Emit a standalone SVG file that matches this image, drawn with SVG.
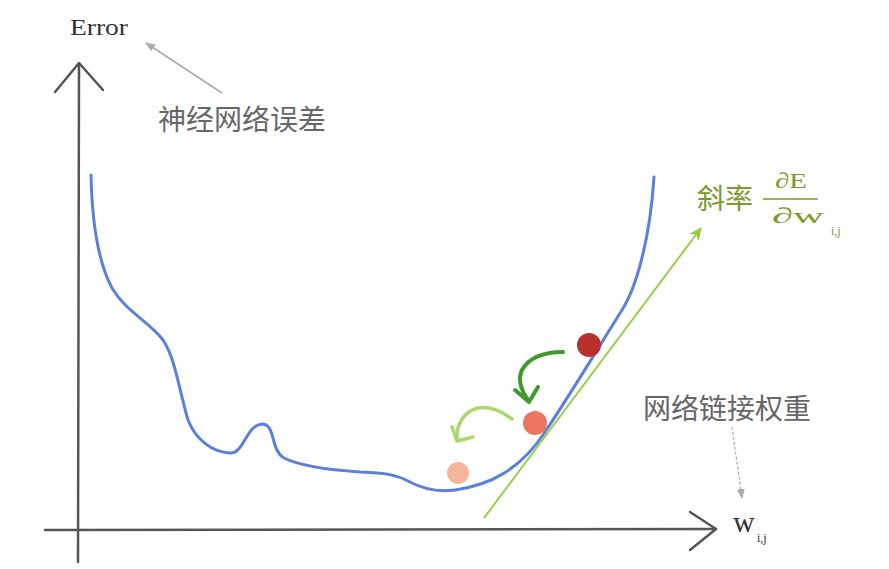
<svg xmlns="http://www.w3.org/2000/svg" width="889" height="569" viewBox="0 0 889 569">
<style>
.axis{fill:none;stroke:#555;stroke-width:2.5;stroke-linecap:round;stroke-linejoin:round}
.serif{font-family:"Liberation Serif","Times New Roman",serif;fill:#333}
.cn{font-family:"Noto Sans CJK SC","Noto Sans",sans-serif;fill:#666;font-size:28px}
</style>
<defs>
<marker id="grayHead" markerWidth="10" markerHeight="10" refX="9" refY="5" orient="auto" markerUnits="userSpaceOnUse">
<path d="M0,1 L10,5 L0,9 Z" fill="#aaa"/>
</marker>
<marker id="greenHead" markerWidth="14" markerHeight="14" refX="12" refY="7" orient="auto" markerUnits="userSpaceOnUse">
<path d="M0,1 L13,7 L0,13 L4,7 Z" fill="#8ccf3a"/>
</marker>
</defs>
<rect width="889" height="569" fill="#fff"/>
<g id="axes">
<path class="axis" d="M79,64 L78,562"/>
<path class="axis" d="M55,92 L79,63 L103,90"/>
<path class="axis" d="M45,530 L716,529"/>
<path class="axis" d="M690,512 L716,529 L690,550"/>
</g>
<g id="curve">
<path d="M91,175 C92,220 98,262 112,288 C126,312 150,322 163,340 C175,358 178,385 188,420 C196,440 212,452 230,453 C244,454 246,425 262,424 C276,424 270,450 284,458 C300,466 330,470 360,472 C385,473 395,474 410,482 C425,490 440,492 455,490 C490,485 520,470 545,432 C570,395 600,345 622,310 C636,288 650,240 654,177" fill="none" stroke="#5b7fdc" stroke-width="3" stroke-linecap="round"/>
</g>
<g id="balls">
<circle id="ball1" cx="589" cy="345" r="12" fill="#b8302c"/>
<circle id="ball2" cx="535" cy="423" r="12" fill="#ec7560"/>
<circle id="ball3" cx="458" cy="473" r="11" fill="#f7b59c"/>
</g>
<g id="labels">
<text id="error" class="serif" x="70" y="35" font-size="23" textLength="58" lengthAdjust="spacingAndGlyphs">Error</text>
<text id="nn-error" class="cn" x="158" y="130">神经网络误差</text>
<text id="weights" class="cn" x="643" y="419">网络链接权重</text>
<text id="slope" class="cn" x="697" y="209" style="fill:#7a9a2a">斜率</text>
<text class="serif" x="775" y="188" font-size="22" textLength="32" lengthAdjust="spacingAndGlyphs" style="fill:#7a9a2a">∂E</text>
<line x1="763" y1="199" x2="818" y2="199" stroke="#7a9a2a" stroke-width="1.5"/>
<text class="serif" x="772" y="223" font-size="22" textLength="52" lengthAdjust="spacingAndGlyphs" style="fill:#7a9a2a">∂w</text>
<text class="serif" x="831" y="235" font-size="12" style="fill:#7a9a2a">i,j</text>
<text id="wij" class="serif" x="733" y="532" font-size="30">w</text>
<text class="serif" x="757" y="542" font-size="12">i,j</text>
</g>
<g id="connectors">
<path d="M222,93 L146,43" fill="none" stroke="#aaa" stroke-width="1.5" marker-end="url(#grayHead)"/>
<path d="M732,427 C735,450 739,475 742,498" fill="none" stroke="#aaa" stroke-width="1.2" stroke-dasharray="3,2" marker-end="url(#grayHead)"/>
<path d="M484,518 L701,228" fill="none" stroke="#8ccf3a" stroke-width="1.8" marker-end="url(#greenHead)"/>
<path d="M563,352 C545,352 530,356 522,370 C517,380 522,392 528,400" fill="none" stroke="#3f9a2c" stroke-width="4" stroke-linecap="round"/>
<path d="M515,390 L529,402 L538,387" fill="none" stroke="#3f9a2c" stroke-width="4" stroke-linecap="round" stroke-linejoin="round"/>
<path d="M512,419 C500,410 490,406 478,408 C464,411 456,425 457,439" fill="none" stroke="#a9d86b" stroke-width="3.5" stroke-linecap="round"/>
<path d="M452,427 L457,441 L473,437" fill="none" stroke="#a9d86b" stroke-width="3.5" stroke-linecap="round" stroke-linejoin="round"/>
</g>
</svg>
